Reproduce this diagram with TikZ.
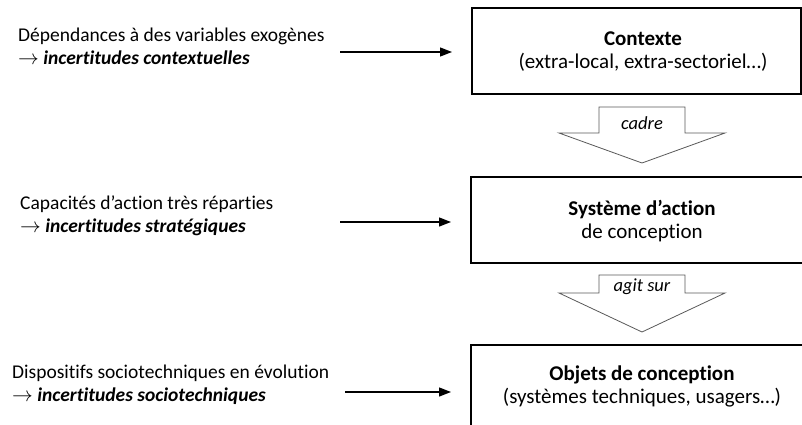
\documentclass[tikz,border=0pt]{standalone}
\usepackage{fontspec}
\setmainfont{Carlito}[Ligatures=NoCommon]
\usetikzlibrary{arrows.meta}
\begin{document}
\begin{tikzpicture}[x=1pt,y=-1pt,
  box/.style={draw=black,line width=2pt,minimum width=#1,minimum height=86pt,inner sep=0pt},
  boxtext/.style={align=center,font=\fontsize{21}{23}\selectfont,inner sep=0pt},
  lefttext/.style={align=left,anchor=west,font=\fontsize{19.5}{23}\selectfont,inner sep=0pt},
  conn/.style={line width=1.3pt,-{Triangle[length=12pt,width=9pt]},shorten >=19pt},
  blockarrow/.style={draw=black!65,line width=0.8pt,fill=white},
  arrowlabel/.style={font=\fontsize{18.5}{20}\selectfont\itshape,inner sep=0pt}
]
\useasboundingbox (0,0) rectangle (802,425);
\clip (0,0) rectangle (802,425);

% boxes
\node[box=329pt] (ctx) at (636.5,51) {};
\node[boxtext] (ctxt) at (643,52) {\textbf{Contexte}\\(extra-local, extra-sectoriel…)};
\node[box=342pt] (sys) at (642,219.5) {};
\node[boxtext] (syst) at (642,221) {\textbf{Système d’action}\\de conception};
\node[box=342pt] (obj) at (642,388) {};
\node[boxtext] (objt) at (642,386) {\textbf{Objets de conception}\\(systèmes techniques, usagers…)};

% block arrows
\draw[blockarrow] (599,107) -- (685,107) -- (685,133) -- (725,133) -- (642,163) -- (559,133) -- (599,133) -- cycle;
\node[arrowlabel] (cadre) at (642,123) {cadre};
\draw[blockarrow] (599,275) -- (685,275) -- (685,293) -- (725,293) -- (642,332) -- (559,293) -- (599,293) -- cycle;
\node[arrowlabel] (agit) at (642,287) {agit sur};

% left texts
\node[lefttext] (t1) at (18,46) {Dépendances à des variables exogènes\\$\rightarrow$ \textbf{\itshape incertitudes contextuelles}};
\node[lefttext] (t2) at (20,216) {Capacités d’action très réparties\\$\rightarrow$ \textbf{\itshape incertitudes stratégiques}};
\node[lefttext] (t3) at (12,385) {Dispositifs sociotechniques en évolution\\$\rightarrow$ \textbf{\itshape incertitudes sociotechniques}};

% connectors
\coordinate (a1) at (340,52);
\coordinate (a2) at (340,222);
\coordinate (a3) at (345,392);
\draw[conn] (a1) -- (ctx.west |- a1);
\draw[conn] (a2) -- (sys.west |- a2);
\draw[conn] (a3) -- (obj.west |- a3);
\end{tikzpicture}
\end{document}
